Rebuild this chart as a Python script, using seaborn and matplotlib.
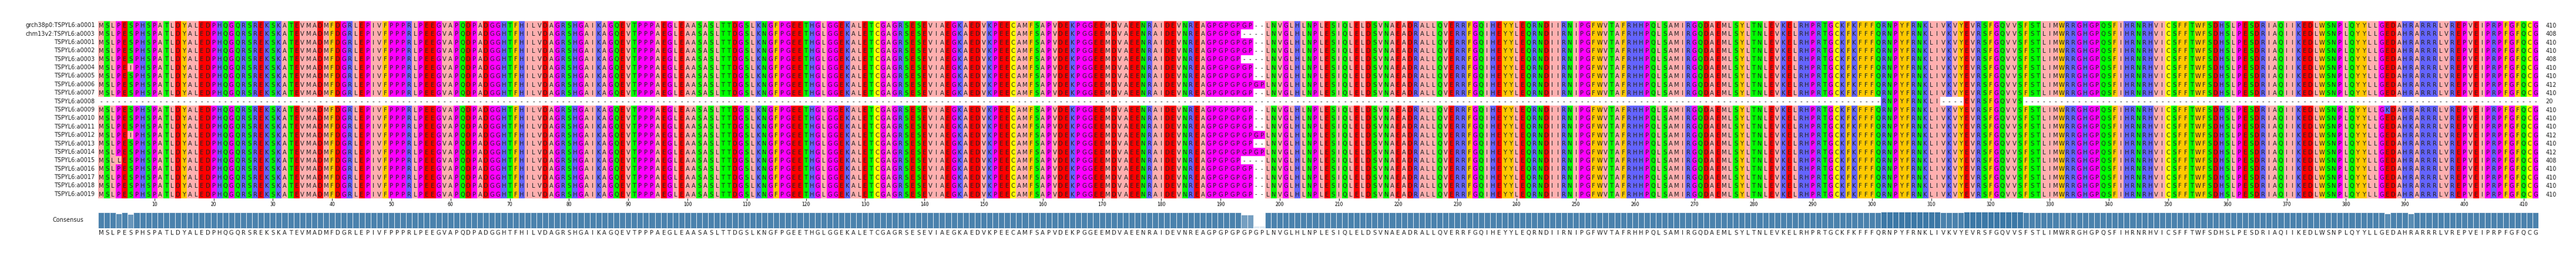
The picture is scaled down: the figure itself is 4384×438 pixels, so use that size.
import numpy as np
import pandas as pd
import matplotlib
matplotlib.use("Agg")
import matplotlib.pyplot as plt
from matplotlib.colors import ListedColormap, to_rgb
import seaborn as sns

# ---------------- data ----------------
consensus = ("MSLPESPHSPATLDYALEDPHQGQRSREKSKATEVMADMFDGRLEP"
             "IVFPPPRLPEEGVAPQDPADGGHTFHILVDAGRSHGAIKAGQEVT"
             "PPPAEGLEAASASLTTDGSLKNGFPGEETHGLGGEKALETCGAGRS"
             "ESEVIAEGKAEDVKPEECAMFSAPVDEKPGGEEMDVAEENRAIDEV"
             "NREAGPGPGPGPGPLNVGLHLNPLESIQLELDSVNAEAD"
             "RALLQVERRFGQIHEYYLEQRNDIIRNIPGFWVTAFRHHPQLSAM"
             "IRGQDAEMLSYLTNLEVKELRHPRTGCKFKFFFQRNPYFRNKLIVK"
             "VYEVRSFGQVVSFSTLIMWRRGHGPQSFIHRNRHVICSFFTWFSD"
             "HSLPESDRIAQIIKEDLWSNPLQ"
             "YYLLGEDAHRARRRLVREPVEIPRPFGFQCG")

names = ["grch38p0:TSPYL6:a0001", "chm13v2:TSPYL6:a0003"] + \
        [f"TSPYL6:a{i:04d}" for i in range(1, 20)]
lengths = [410, 408, 410, 410, 408, 410, 410, 412, 410, 20,
           410, 410, 410, 412, 410, 412, 408, 410, 410, 410, 410]
# gap columns (1-based) by sequence length
gap_cols = {410: [196, 197], 408: [194, 195, 196, 197], 412: []}
# a0008 residues present only at these columns
short_cols = list(range(302, 312)) + list(range(316, 326))
# point substitutions: (row index, column 1-based, residue)
mutations = [(5, 6, "I"), (13, 6, "I"), (16, 4, "L"),
             (10, 387, "K"), (12, 391, "K")]
tick_positions = list(range(10, 411, 10))

# ---------------- build alignment ----------------
ncol = len(consensus)
seqs = []
for i, L in enumerate(lengths):
    s = list(consensus)
    if L == 20:
        s = [c if (j + 1) in short_cols else "-" for j, c in enumerate(s)]
    else:
        for g in gap_cols[L]:
            s[g - 1] = "-"
    seqs.append(s)
for r, c, a in mutations:
    seqs[r][c - 1] = a

groups = {"ILVAM": "#ffafaf", "FWY": "#ffc800", "KRH": "#6464ff",
          "DE": "#ff0000", "STNQ": "#00ff00", "PG": "#ff00ff", "C": "#ffff00"}
grp_keys = list(groups.keys())
def code(a):
    for k, g in enumerate(grp_keys):
        if a in g:
            return k
    return np.nan
mat = np.array([[code(a) for a in s] for s in seqs], dtype=float)
df = pd.DataFrame(mat, index=names, columns=range(1, ncol + 1))

# conservation
frac = []
for j in range(ncol):
    col = [s[j] for s in seqs]
    frac.append(sum(1 for a in col if a == consensus[j]) / len(seqs))
frac = np.array(frac)
lo, hi = np.array(to_rgb("#deebf7")), np.array(to_rgb("#2a7ab8"))
bar_cols = [tuple(lo + (hi - lo) * f ** 2) for f in frac]

# ---------------- draw ----------------
W, H = 4384, 438
fig = plt.figure(figsize=(W / 100, H / 100), dpi=100)
x0, x1 = 167, 4320
ax = fig.add_axes([x0 / W, (H - 338) / H, (x1 - x0) / W, 302 / H])
sns.heatmap(df, mask=df.isna(), cmap=ListedColormap(list(groups.values())),
            vmin=-0.5, vmax=6.5, cbar=False, ax=ax,
            xticklabels=False, yticklabels=True)
ax.set_ylabel("")
ax.tick_params(axis="y", length=0, labelsize=7, pad=4)
for lab in ax.get_yticklabels():
    lab.set_color("#222222")
ax.set_xticks([p - 0.5 for p in tick_positions])
ax.set_xticklabels([str(p) for p in tick_positions], fontsize=5.5)
ax.tick_params(axis="x", length=3, width=0.6, pad=1)
for i, s in enumerate(seqs):
    for j, a in enumerate(s):
        ax.text(j + 0.5, i + 0.55, a, ha="center", va="center",
                fontsize=7.2, color="#222222")
    ax.text(ncol + 1.2, i + 0.55, str(lengths[i]), ha="left", va="center",
            fontsize=7, color="#222222")
for sp in ax.spines.values():
    sp.set_visible(False)

ax2 = fig.add_axes([x0 / W, (H - 389) / H, (x1 - x0) / W, 28 / H])
cdf = pd.DataFrame({"pos": np.arange(ncol), "frac": frac})
sns.barplot(data=cdf, x="pos", y="frac", hue="pos", palette=bar_cols,
            legend=False, ax=ax2, width=1.0, edgecolor="white", linewidth=0.5)
ax2.set_xlim(-0.5, ncol - 0.5)
ax2.set_ylim(0, 1)
ax2.axis("off")
for j, a in enumerate(consensus):
    ax2.text(j, -0.28, a, ha="center", va="center", fontsize=7.2,
             color="#222222", transform=ax2.transData)
ax2.text(-3, 0.5, "Consensus", ha="right", va="center", fontsize=7,
         color="#222222")

fig.savefig("out.png", dpi=100)
